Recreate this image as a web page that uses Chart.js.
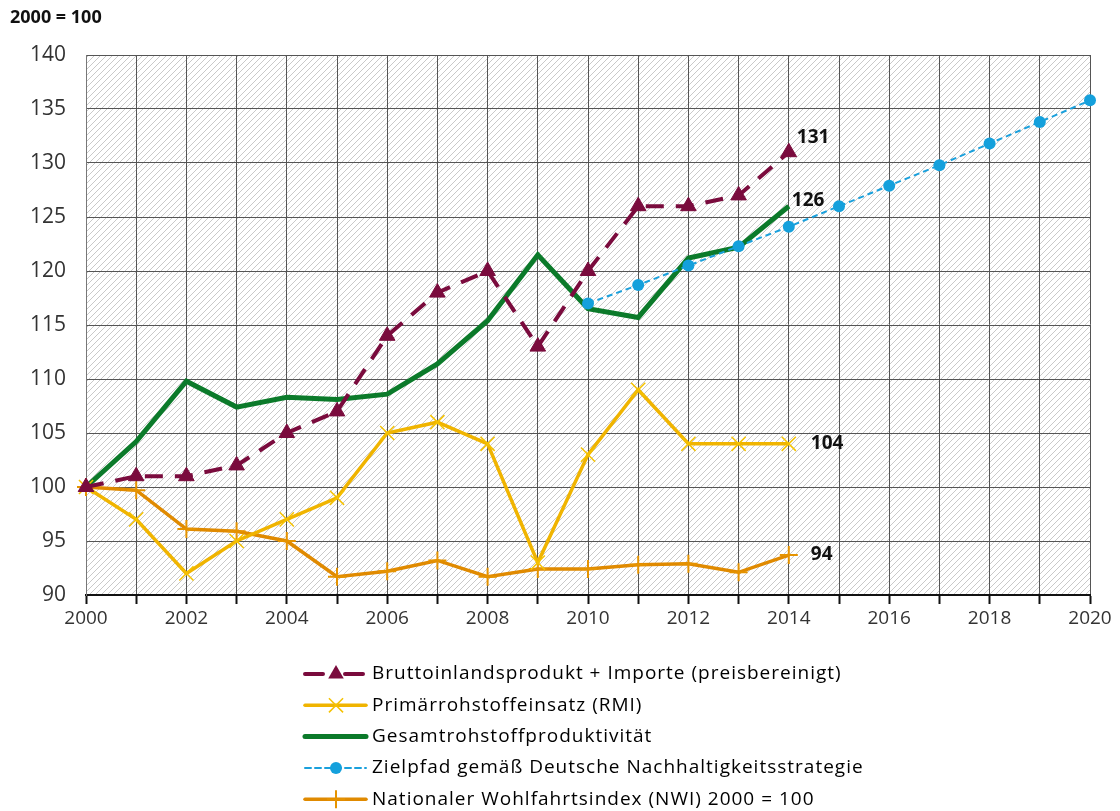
<!DOCTYPE html>
<html>
<head>
<meta charset="utf-8">
<script src="https://cdn.jsdelivr.net/npm/chart.js@4/dist/chart.umd.min.js"></script>
<style>
  html,body{margin:0;padding:0;background:#fff;}
  #wrap{position:relative;width:1120px;height:811px;}
  canvas{display:block;}
</style>
</head>
<body>
<div id="wrap"><canvas id="c" width="1120" height="811"></canvas></div>
<script>
// ---- data ----
const years = [2000,2001,2002,2003,2004,2005,2006,2007,2008,2009,2010,2011,2012,2013,2014];
const targetYears = [2010,2011,2012,2013,2014,2015,2016,2017,2018,2019,2020];
const bipImporte = [100,101,101,102,105,107,114,118,120,113,120,126,126,127,131];
const rmi = [100,97,92,95,97,99,105,106,104,93,103,109,104,104,104];
const produktivitaet = [100,104.2,109.8,107.4,108.3,108.1,108.6,111.4,115.4,121.5,116.5,115.7,121.2,122.2,126];
const zielpfad = [117,118.7,120.5,122.3,124.1,126.0,127.9,129.8,131.8,133.8,135.8];
const nwi = [100,99.7,96.1,95.9,95.0,91.7,92.2,93.2,91.7,92.4,92.4,92.8,92.9,92.1,93.7];
const seriesNames = [
  'Bruttoinlandsprodukt + Importe (preisbereinigt)',
  'Primärrohstoffeinsatz (RMI)',
  'Gesamtrohstoffproduktivität',
  'Zielpfad gemäß Deutsche Nachhaltigkeitsstrategie',
  'Nationaler Wohlfahrtsindex (NWI) 2000 = 100'
];
const endLabels = ['131','104','126',null,'94'];
const yTicks = [90,140,5];
const xTicks = [2000,2020];

const FONT = '"Open Sans", Lato, sans-serif';
const pts = (xs, ys) => xs.map((x,i)=>({x:x,y:ys[i]}));

// hatch pattern
function makeHatch(){
  const s = 6;
  const c = document.createElement('canvas');
  c.width = s; c.height = s;
  const g = c.getContext('2d');
  g.fillStyle = '#ffffff'; g.fillRect(0,0,s,s);
  g.strokeStyle = '#c9c9c9'; g.lineWidth = 1;
  g.beginPath();
  g.moveTo(-1, s+1); g.lineTo(s+1, -1);
  g.moveTo(-1, 1); g.lineTo(1, -1);
  g.moveTo(s-1, s+1); g.lineTo(s+1, s-1);
  g.stroke();
  return c;
}
const hatchCanvas = makeHatch();

const bgPlugin = {
  id:'bgHatch',
  beforeDraw(chart){
    const {ctx, chartArea:a} = chart;
    ctx.save();
    ctx.fillStyle = ctx.createPattern(hatchCanvas,'repeat');
    ctx.fillRect(a.left, a.top, a.right-a.left, a.bottom-a.top);
    ctx.restore();
  }
};

function drawMarker(ctx, style, x, y, r, color, bw){
  ctx.save();
  ctx.setLineDash([]);
  ctx.fillStyle = color; ctx.strokeStyle = color; ctx.lineWidth = bw;
  ctx.beginPath();
  if(style==='triangle'){
    ctx.moveTo(x, y-r);
    ctx.lineTo(x + r*Math.sin(Math.PI*2/3), y - r*Math.cos(Math.PI*2/3));
    ctx.lineTo(x + r*Math.sin(Math.PI*4/3), y - r*Math.cos(Math.PI*4/3));
    ctx.closePath(); ctx.fill();
  } else if(style==='circle'){
    ctx.arc(x,y,r,0,Math.PI*2); ctx.fill();
  } else if(style==='crossRot'){
    const d = r*Math.SQRT1_2;
    ctx.moveTo(x-d,y-d); ctx.lineTo(x+d,y+d);
    ctx.moveTo(x-d,y+d); ctx.lineTo(x+d,y-d); ctx.stroke();
  } else if(style==='cross'){
    ctx.moveTo(x,y-r); ctx.lineTo(x,y+r);
    ctx.moveTo(x-r,y); ctx.lineTo(x+r,y); ctx.stroke();
  }
  ctx.restore();
}

const legendPlugin = {
  id:'customLegend',
  afterDraw(chart){
    const ctx = chart.ctx;
    chart.data.datasets.forEach((ds,row)=>{
      const y = 674 + row*31.3;
      ctx.save();
      ctx.strokeStyle = ds.borderColor;
      ctx.lineWidth = ds.borderWidth;
      ctx.lineCap = 'round';
      ctx.setLineDash(ds.legendDash || []);
      ctx.beginPath(); ctx.moveTo(305,y); ctx.lineTo(366,y); ctx.stroke();
      ctx.restore();
      if(ds.pointStyle && ds.pointRadius>0){
        drawMarker(ctx, ds.pointStyle, 336, y, ds.pointRadius, ds.pointBackgroundColor||ds.borderColor, ds.pointBorderWidth||1);
      }
      ctx.save();
      ctx.fillStyle = '#000';
      ctx.font = '19px ' + FONT;
      try { ctx.letterSpacing = '1px'; } catch(e) {}
      ctx.textBaseline = 'middle';
      ctx.fillText(ds.label, 372, y);
      ctx.restore();
    });
    // top-left unit label
    ctx.save();
    ctx.fillStyle = '#111';
    ctx.font = 'bold 18px ' + FONT;
    ctx.textBaseline = 'middle';
    ctx.fillText('2000 = 100', 10, 18);
    ctx.restore();
  }
};

const endLabelPlugin = {
  id:'endLabels',
  afterDatasetsDraw(chart){
    const ctx = chart.ctx;
    const xs = chart.scales.x, ys = chart.scales.y;
    chart.data.datasets.forEach(ds=>{
      if(!ds.endLabel) return;
      const p = ds.data[ds.data.length-1];
      const px = xs.getPixelForValue(p.x), py = ys.getPixelForValue(p.y);
      ctx.save();
      ctx.fillStyle = '#111';
      ctx.font = 'bold 19px ' + FONT;
      ctx.textBaseline = 'middle';
      ctx.fillText(ds.endLabel, px + ds.endLabelDx, py + ds.endLabelDy);
      ctx.restore();
    });
  }
};

const datasets = [
  {
    label: seriesNames[0], data: pts(years,bipImporte),
    borderColor:'#7a0b3d', backgroundColor:'#7a0b3d', borderWidth:4,
    borderDash:[18,12], legendDash:[18,22],
    pointStyle:'triangle', pointRadius:9, pointBackgroundColor:'#7a0b3d', pointBorderColor:'#7a0b3d', pointBorderWidth:1,
    order:1, clip:false, endLabel:endLabels[0], endLabelDx:8, endLabelDy:-15
  },
  {
    label: seriesNames[1], data: pts(years,rmi),
    borderColor:'#f0b400', backgroundColor:'#f0b400', borderWidth:3.5,
    pointStyle:'crossRot', pointRadius:10, pointBackgroundColor:'#f5c200', pointBorderColor:'#f5c200', pointBorderWidth:1.5,
    order:3, clip:false, endLabel:endLabels[1], endLabelDx:22, endLabelDy:0
  },
  {
    label: seriesNames[2], data: pts(years,produktivitaet),
    borderColor:'#0b7a2a', backgroundColor:'#0b7a2a', borderWidth:5,
    pointStyle:false, pointRadius:0,
    order:4, clip:false, endLabel:endLabels[2], endLabelDx:3, endLabelDy:-6
  },
  {
    label: seriesNames[3], data: pts(targetYears,zielpfad),
    borderColor:'#1aa0dc', backgroundColor:'#1aa0dc', borderWidth:2,
    borderDash:[6,4], legendDash:[6,4],
    pointStyle:'circle', pointRadius:6, pointBackgroundColor:'#14a0dc', pointBorderColor:'#14a0dc', pointBorderWidth:0,
    order:2, clip:false, endLabel:null
  },
  {
    label: seriesNames[4], data: pts(years,nwi),
    borderColor:'#e08a00', backgroundColor:'#e08a00', borderWidth:3.5,
    pointStyle:'cross', pointRadius:9, pointBackgroundColor:'#e59300', pointBorderColor:'#e59300', pointBorderWidth:2,
    order:5, clip:false, endLabel:endLabels[4], endLabelDx:22, endLabelDy:0
  }
];

new Chart(document.getElementById('c'), {
  type:'line',
  data:{ datasets },
  options:{
    responsive:false,
    animation:false,
    events:[],
    layout:{ padding:{ left:0, right:30, top:55, bottom:171 } },
    plugins:{ legend:{display:false}, tooltip:{enabled:false} },
    elements:{ line:{ tension:0 } },
    scales:{
      x:{
        type:'linear', min:xTicks[0], max:xTicks[1],
        afterFit(s){ s.height = 45; },
        ticks:{ stepSize:1, autoSkip:false, maxRotation:0, padding:3, color:'#333',
          font:{ family:FONT, size:19 },
          callback:(v)=> (v%2===0 ? String(v) : '') },
        grid:{ color:'#555', lineWidth:1, drawTicks:true, tickLength:9, tickColor:'#111', tickWidth:2 },
        border:{ color:'#111', width:2 }
      },
      y:{
        type:'linear', min:yTicks[0], max:yTicks[1],
        afterFit(s){ s.width = 86; },
        ticks:{ stepSize:yTicks[2], padding:20, color:'#333', font:{ family:FONT, size:21 } },
        grid:{ color:'#555', lineWidth:1, drawTicks:false },
        border:{ color:'#777', width:1 }
      }
    }
  },
  plugins:[bgPlugin, endLabelPlugin, legendPlugin]
});
</script>
</body>
</html>
